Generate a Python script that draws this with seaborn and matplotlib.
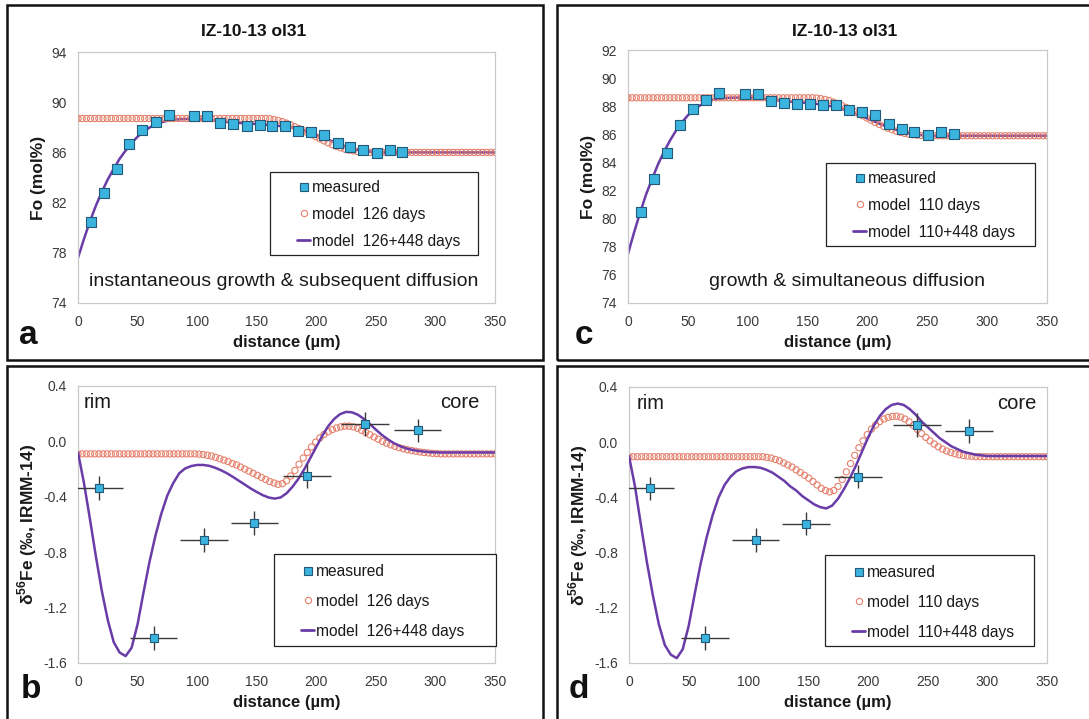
import numpy as np
import pandas as pd
import matplotlib
matplotlib.use("Agg")
import matplotlib.pyplot as plt
from matplotlib.lines import Line2D
from matplotlib.patches import Rectangle
import seaborn as sns

sns.set_style("white")
plt.rcParams["font.family"] = ["Liberation Sans", "DejaVu Sans"]
plt.rcParams["mathtext.fontset"] = "custom"
plt.rcParams["mathtext.rm"] = "Liberation Sans"
plt.rcParams["mathtext.bf"] = "Liberation Sans:bold"

# ---------------- measured profiles ----------------
fo_dist = [10.9, 21.6, 32.5, 43.2, 54.0, 65.2, 76.0, 97.5, 108.2, 119.5, 130.5, 141.5,
           152.4, 163.0, 174.0, 185.0, 195.7, 206.7, 218.0, 228.5, 239.3, 250.7, 261.8, 272.3]
fo_meas = [80.45, 82.8, 84.7, 86.65, 87.8, 88.42, 88.95, 88.9, 88.88, 88.38, 88.24, 88.13,
           88.17, 88.1, 88.1, 87.7, 87.6, 87.35, 86.77, 86.4, 86.18, 85.97, 86.17, 86.02]

fe_dist = [18.0, 63.5, 106.0, 148.0, 192.0, 241.0, 285.0]
fe_meas = [-0.335, -1.42, -0.71, -0.59, -0.25, 0.125, 0.08]
fe_xerr = [20, 20, 20, 20, 20, 20, 20]
fe_yerr = [0.085, 0.085, 0.085, 0.085, 0.085, 0.085, 0.085]

# ---------------- diffusion models ----------------
# open-circle models sampled every 3.5 um, line models every 5 um
circ_dist = np.arange(0, 350.01, 3.5)
line_dist = np.arange(0, 350.01, 5.0)

fo_growth_126 = [88.7] * 46 + [
    88.68, 88.62, 88.55, 88.45, 88.33, 88.2, 88.05, 87.9, 87.74, 87.58, 87.42, 87.25,
    87.08, 86.92, 86.76, 86.61, 86.48, 86.36, 86.26, 86.18, 86.12, 86.07, 86.04, 86.02,
] + [86.0] * 31

fo_growth_126_448 = [
    77.6, 79.1, 80.5, 81.75, 82.85, 83.85, 84.7, 85.5, 86.15, 86.75, 87.25, 87.65,
    87.98, 88.22, 88.4, 88.52, 88.6, 88.64, 88.66, 88.66, 88.65, 88.62, 88.58, 88.53,
    88.48, 88.43, 88.39, 88.35, 88.32, 88.29, 88.26, 88.23, 88.19, 88.14, 88.1, 88.06,
    87.98, 87.88, 87.75, 87.58, 87.4, 87.22, 87.02, 86.82, 86.63, 86.46, 86.32, 86.2,
    86.12, 86.06, 86.03, 86.01,
] + [86.0] * 19

fo_simul_110 = [88.6] * 45 + [
    88.58, 88.54, 88.48, 88.4, 88.3, 88.18, 88.05, 87.92, 87.78, 87.63, 87.48, 87.32,
    87.16, 87.0, 86.84, 86.7, 86.56, 86.44, 86.33, 86.23, 86.14, 86.07, 86.01, 85.97,
    85.94, 85.92,
] + [85.9] * 30

fo_simul_110_448 = [
    77.5, 79.0, 80.4, 81.7, 82.8, 83.85, 84.75, 85.55, 86.25, 86.85, 87.35, 87.75,
    88.05, 88.28, 88.43, 88.52, 88.57, 88.6, 88.61, 88.61, 88.6, 88.58, 88.55, 88.51,
    88.47, 88.42, 88.38, 88.34, 88.3, 88.27, 88.23, 88.19, 88.14, 88.07, 87.99, 87.89,
    87.77, 87.63, 87.47, 87.3, 87.12, 86.94, 86.76, 86.59, 86.43, 86.29, 86.17, 86.07,
    86.0, 85.95, 85.92,
] + [85.9] * 20

fe_growth_126 = [-0.09] * 29 + [
    -0.092, -0.095, -0.1, -0.105, -0.115, -0.125, -0.135, -0.145, -0.16, -0.17,
    -0.185, -0.2, -0.215, -0.23, -0.245, -0.26, -0.275, -0.29, -0.3, -0.31,
    -0.305, -0.285, -0.25, -0.21, -0.165, -0.12, -0.08, -0.04, -0.005, 0.025,
    0.05, 0.07, 0.085, 0.097, 0.105, 0.11, 0.11, 0.105, 0.095, 0.08,
    0.065, 0.048, 0.032, 0.016, 0.0, -0.013, -0.025, -0.036, -0.045, -0.053,
    -0.06, -0.066, -0.071, -0.076, -0.08, -0.083, -0.086, -0.088,
] + [-0.09] * 14

fe_growth_126_448 = [
    -0.08, -0.3, -0.56, -0.83, -1.08, -1.29, -1.45, -1.525, -1.55, -1.49,
    -1.32, -1.09, -0.87, -0.68, -0.52, -0.39, -0.3, -0.23, -0.195, -0.178,
    -0.17, -0.17, -0.176, -0.19, -0.208, -0.23, -0.256, -0.284, -0.312, -0.34,
    -0.365, -0.388, -0.405, -0.413, -0.405, -0.375, -0.328, -0.27, -0.2, -0.12,
    -0.04, 0.04, 0.11, 0.162, 0.197, 0.213, 0.21, 0.192, 0.162, 0.125,
    0.085, 0.047, 0.015, -0.012, -0.033, -0.049, -0.06, -0.068, -0.073, -0.077,
    -0.079,
] + [-0.08] * 10

fe_simul_110 = [-0.105] * 33 + [
    -0.11, -0.115, -0.125, -0.135, -0.15, -0.165, -0.18, -0.2, -0.22, -0.24,
    -0.26, -0.285, -0.31, -0.335, -0.35, -0.36, -0.35, -0.32, -0.27, -0.215,
    -0.155, -0.095, -0.04, 0.01, 0.055, 0.095, 0.125, 0.15, 0.168, 0.18,
    0.187, 0.188, 0.182, 0.168, 0.148, 0.122, 0.093, 0.063, 0.035, 0.01,
    -0.013, -0.033, -0.05, -0.064, -0.075, -0.084, -0.091, -0.096, -0.1, -0.102,
] + [-0.105] * 18

fe_simul_110_448 = [
    -0.1, -0.32, -0.6, -0.87, -1.11, -1.32, -1.47, -1.54, -1.565, -1.5,
    -1.33, -1.1, -0.88, -0.69, -0.53, -0.4, -0.31, -0.25, -0.21, -0.19,
    -0.18, -0.18, -0.185, -0.2, -0.22, -0.25, -0.28, -0.32, -0.35, -0.39,
    -0.42, -0.45, -0.47, -0.48, -0.46, -0.41, -0.34, -0.26, -0.17, -0.07,
    0.03, 0.12, 0.19, 0.24, 0.27, 0.28, 0.27, 0.24, 0.2, 0.15,
    0.11, 0.07, 0.03, 0.0, -0.03, -0.05, -0.07, -0.08, -0.09, -0.095,
] + [-0.1] * 11

# ---------------- styling ----------------
SQ_FACE = "#3AB4DE"
SQ_EDGE = "#24597A"
CIRC_EDGE = "#E5806C"
LINE_COL = "#6A3CA8"
TICK_COL = "#3A3A3A"
TEXT_COL = "#1A1A1A"

W, H = 1089, 719
fig = plt.figure(figsize=(W / 100, H / 100), dpi=100)
fig.patch.set_facecolor("white")


def fx(x):
    return x / W


def fy(y):
    return 1 - y / H


def axes_px(x0, x1, y0, y1):
    return fig.add_axes([fx(x0), fy(y1), (x1 - x0) / W, (y1 - y0) / H])


def box_px(x0, x1, y0, y1, lw, color):
    fig.patches.append(Rectangle((fx(x0), fy(y1)), (x1 - x0) / W, (y1 - y0) / H,
                                 transform=fig.transFigure, fill=False,
                                 edgecolor=color, linewidth=lw, clip_on=False, zorder=5))


def style_axes(ax, yticks, ylabels, ylim):
    ax.set_xlim(0, 350)
    ax.set_ylim(*ylim)
    ax.set_xticks([0, 50, 100, 150, 200, 250, 300, 350])
    ax.set_yticks(yticks)
    ax.set_yticklabels(ylabels)
    ax.tick_params(axis="both", length=0, labelsize=10, labelcolor=TICK_COL)
    ax.tick_params(axis="x", pad=9)
    ax.tick_params(axis="y", pad=8)
    for s in ax.spines.values():
        s.set_color("#C9C9C9")
        s.set_linewidth(0.9)
    ax.set_xlabel("distance (µm)", fontsize=12, fontweight="bold", labelpad=4,
                  color=TEXT_COL)


def add_legend(ax, days, x0, x1, y0, y1, top_off, spacing):
    # white box with thin dark outline, entries placed inside it
    ax.add_patch(Rectangle((fx(x0), fy(y1)), (x1 - x0) / W, (y1 - y0) / H,
                           transform=fig.transFigure, facecolor="white",
                           edgecolor="#222222", linewidth=0.9, zorder=8, clip_on=False))
    handles = [
        Line2D([], [], ls="none", marker="s", ms=6, mfc=SQ_FACE, mec=SQ_EDGE, mew=0.8),
        Line2D([], [], ls="none", marker="o", ms=4.5, mfc="none", mec=CIRC_EDGE, mew=0.8),
        Line2D([], [], color=LINE_COL, lw=2.0),
    ]
    labels = ["measured", f"model  {days} days", f"model  {days}+448 days"]
    leg = ax.legend(handles, labels, loc="upper left",
                    bbox_to_anchor=(fx(x0 + 27), fy(y0 + top_off)),
                    bbox_transform=fig.transFigure, fontsize=11.2, frameon=False,
                    handlelength=0.85, handletextpad=0.12, labelspacing=spacing,
                    borderpad=0, borderaxespad=0)
    leg.set_zorder(9)
    for t in leg.get_texts():
        t.set_color(TEXT_COL)
    return leg


def fo_panel(ax, circ_vals, line_vals):
    sns.lineplot(x=line_dist, y=line_vals, ax=ax, color=LINE_COL, lw=1.8, zorder=2)
    sns.scatterplot(x=circ_dist, y=circ_vals, ax=ax, marker="o", s=20,
                    facecolor="none", edgecolor=CIRC_EDGE, linewidth=0.8, zorder=3)
    sns.scatterplot(x=fo_dist, y=fo_meas, ax=ax, marker="s", s=44,
                    color=SQ_FACE, edgecolor=SQ_EDGE, linewidth=0.8, zorder=4)
    ax.set_ylabel("Fo (mol%)", fontsize=12.5, fontweight="bold", labelpad=4,
                  color=TEXT_COL)


def fe_panel(ax, circ_vals, line_vals, rim_x, core_x):
    sns.scatterplot(x=circ_dist, y=circ_vals, ax=ax, marker="o", s=20,
                    facecolor="none", edgecolor=CIRC_EDGE, linewidth=0.8, zorder=2)
    sns.lineplot(x=line_dist, y=line_vals, ax=ax, color=LINE_COL, lw=1.8, zorder=3)
    ax.errorbar(fe_dist, fe_meas, xerr=fe_xerr, yerr=fe_yerr, fmt="none",
                ecolor="#3A3A3A", elinewidth=1.0, capsize=0, zorder=4)
    sns.scatterplot(x=fe_dist, y=fe_meas, ax=ax, marker="s", s=34,
                    color=SQ_FACE, edgecolor=SQ_EDGE, linewidth=0.8, zorder=5)
    ax.set_ylabel(r"δ$^{\mathbf{56}}$Fe (‰, IRMM-14)", fontsize=12.5,
                  fontweight="bold", labelpad=3, color=TEXT_COL)
    ax.text(rim_x, 0.94, "rim", transform=ax.transAxes, fontsize=14.5,
            color=TEXT_COL, ha="left", va="center")
    ax.text(core_x, 0.94, "core", transform=ax.transAxes, fontsize=14.5,
            color=TEXT_COL, ha="right", va="center")


fe_ticks = [-1.6, -1.2, -0.8, -0.4, 0.0, 0.4]
fe_labels = ["-1.6", "-1.2", "-0.8", "-0.4", "0.0", "0.4"]

# panel a
ax_a = axes_px(78, 495, 52, 303)
fo_panel(ax_a, fo_growth_126, fo_growth_126_448)
style_axes(ax_a, [74, 78, 82, 86, 90, 94], ["74", "78", "82", "86", "90", "94"], (74, 94))
add_legend(ax_a, 126, 270, 478, 172, 255, 8, 0.76)
fig.text(fx(284), fy(282), "instantaneous growth & subsequent diffusion",
         fontsize=14, color=TEXT_COL, ha="center", va="center")

# panel c
ax_c = axes_px(628, 1047, 50, 303)
fo_panel(ax_c, fo_simul_110, fo_simul_110_448)
style_axes(ax_c, list(range(74, 93, 2)), [str(v) for v in range(74, 93, 2)], (74, 92))
add_legend(ax_c, 110, 826, 1035, 163, 246, 8, 0.76)
fig.text(fx(847), fy(282), "growth & simultaneous diffusion",
         fontsize=14, color=TEXT_COL, ha="center", va="center")

# panel b
ax_b = axes_px(78, 495, 386, 663)
fe_panel(ax_b, fe_growth_126, fe_growth_126_448, 0.013, 0.962)
style_axes(ax_b, fe_ticks, fe_labels, (-1.6, 0.4))
add_legend(ax_b, 126, 274, 496, 554, 646, 10, 0.95)

# panel d
ax_d = axes_px(629, 1047, 387, 663)
fe_panel(ax_d, fe_simul_110, fe_simul_110_448, 0.018, 0.974)
style_axes(ax_d, fe_ticks, fe_labels, (-1.6, 0.4))
add_legend(ax_d, 110, 825, 1034, 555, 646, 10, 0.95)

# sample titles
for xc in (254, 845):
    fig.text(fx(xc), fy(31), "IZ-10-13 ol31", fontsize=12.5, fontweight="bold",
             ha="center", va="center", color="#111111")

# panel letters
for letter, (xl, yl) in {"a": (19, 336), "c": (575, 336),
                         "b": (21, 690), "d": (569, 690)}.items():
    fig.text(fx(xl), fy(yl), letter, fontsize=24, fontweight="bold",
             ha="left", va="center", color="#111111")

# panel frames
box_px(7, 543, 5, 360, 1.8, "#111111")
box_px(557, 1100, 5, 360, 1.8, "#111111")
box_px(7, 543, 366, 730, 1.8, "#111111")
box_px(557, 1100, 366, 730, 1.8, "#111111")

fig.savefig("out.png", dpi=100, facecolor="white")
